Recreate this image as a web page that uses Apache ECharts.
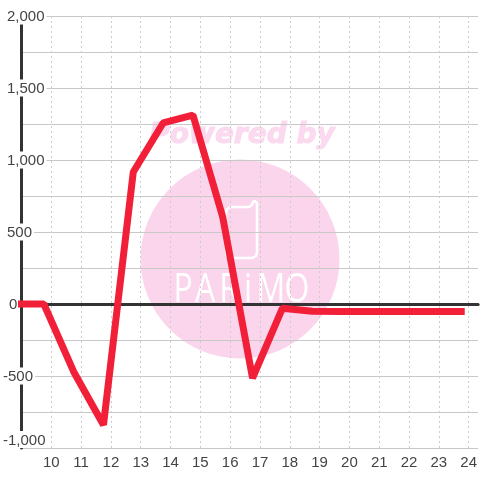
<!DOCTYPE html>
<html>
<head>
<meta charset="utf-8">
<title>chart</title>
<style>
	html,body{margin:0;padding:0;background:#fff;}
	#main{width:480px;height:480px;}
</style>
<script src="https://cdn.jsdelivr.net/npm/echarts@6/dist/echarts.min.js"></script>
</head>
<body>
<div id="main"></div>
<script>
// data
var hours = [9, 9.75, 10.75, 11.75, 12.75, 13.75, 14.75, 15.75, 16.75, 17.75, 18.75, 19.75, 20.75, 21.75, 22.75, 23.75];
var values = [0, 0, -470, -840, 917, 1257, 1312, 604, -514, -30, -50, -52, -52, -52, -52, -52];
var yTicks = [-1000, -500, 0, 500, 1000, 1500, 2000];
var logoLetters = ['P', 'A', 'R', 'i', 'M', 'O'];
var logoLetterX = [183, 205, 229, 248, 271, 297];

window.onload = function(){
	var myChart = echarts.init(document.getElementById('main'));

	var seriesData = [];
	for (var i = 0; i < hours.length; i++) {
		seriesData.push([hours[i], values[i]]);
	}

	// labels are not lined up on either side in the original, so shift them by token
	var labelRich = {
		wide: {padding: [0, 0, 0, 4]},
		neg: {padding: [0, 0, 0, 0]},
		zero: {padding: [0, 0, 0, 6]}
	};
	var yLabel = function (v) {
		if (yTicks.indexOf(v) == -1) {
			return '';
		}
		var text = echarts.format.addCommas(v);
		if (v == 0) {
			return '{zero|' + text + '}';
		}
		return (v < 0 ? '{neg|' : '{wide|') + text + '}';
	};

	// watermark
	var watermark = [
		{type: 'circle', z: -1, silent: true, shape: {cx: 240, cy: 259, r: 99.5}, style: {fill: '#fbd5ec'}},
		{type: 'text', z: -1, silent: true, x: 242, y: 136, style: {
			text: 'Powered by', fill: '#fbd9ef', stroke: '#fbd9ef', lineWidth: 1, align: 'center', verticalAlign: 'middle',
			font: 'italic bold 28px "DejaVu Sans"'
		}},
		{type: 'polyline', z: -1, silent: true, shape: {
			points: [[226, 213], [227, 209], [231, 207], [249, 207], [252, 205], [253, 202], [255, 201], [257, 203],
				[257, 252], [256, 256], [252, 258], [231, 258], [227, 256], [226, 252], [226, 213]]
		}, style: {fill: 'none', stroke: '#fff', lineWidth: 2.5}}
	];
	for (var j = 0; j < logoLetters.length; j++) {
		watermark.push({type: 'text', z: -1, silent: true, x: logoLetterX[j], y: 311, scaleX: 0.8, style: {
			text: logoLetters[j], fill: '#fff', align: 'center', verticalAlign: 'bottom',
			font: '400 40px "Open Sans"'
		}});
	}

	var option = {
		animation: false,
		backgroundColor: '#fff',
		textStyle: {fontFamily: '"Liberation Sans"'},
		graphic: watermark,
		grid: {left: 20.5, right: 0, top: 16, bottom: 32},
		xAxis: [{
			type: 'value',
			min: 9,
			max: 24.317,
			interval: 1,
			axisLine: {show: false, onZero: false},
			axisTick: {show: false},
			axisLabel: {
				color: '#444',
				fontSize: 15,
				margin: 7,
				showMaxLabel: false,
				formatter: function (v) {
					return v == 9 ? '' : String(v);
				}
			},
			splitLine: {
				show: true,
				showMaxLine: false,
				lineStyle: {color: '#ccc', type: [2, 3], width: 1}
			}
		},{
			// zero line, the bottom axis has to keep its labels
			type: 'value',
			min: 9,
			max: 24.317,
			interval: 1,
			axisLine: {show: true, onZero: true, lineStyle: {color: '#333', width: 3}},
			axisTick: {show: false},
			axisLabel: {show: false},
			splitLine: {show: false}
		}],
		yAxis: {
			type: 'value',
			min: -1000,
			max: 2000,
			interval: 500,
			axisLine: {show: true, onZero: false, lineStyle: {color: '#333', width: 3}},
			axisTick: {show: false},
			axisLabel: {
				inside: true,
				margin: -18.5,
				align: 'left',
				verticalAlignMinLabel: 'bottom',
				color: '#444',
				fontSize: 15,
				backgroundColor: '#fff',
				padding: [2, 2, 0, 0],
				rich: labelRich,
				formatter: yLabel
			},
			splitLine: {show: true, lineStyle: {color: '#c8c8c8', width: 1}},
			minorTick: {show: false, splitNumber: 2},
			minorSplitLine: {show: true, lineStyle: {color: '#c8c8c8', width: 1}}
		},
		series: [{
			type: 'line',
			xAxisIndex: 0,
			data: seriesData,
			showSymbol: false,
			clip: false,
			lineStyle: {color: '#f21f38', width: 7, cap: 'square'}
		}]
	};
	myChart.setOption(option);
};
</script>
</body>
</html>
